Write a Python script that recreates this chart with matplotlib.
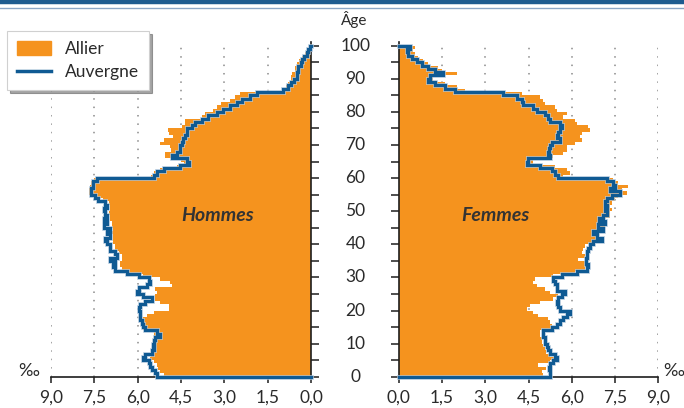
import matplotlib
matplotlib.use('Agg')
import matplotlib.pyplot as plt
from matplotlib.patches import Patch
from matplotlib.lines import Line2D
from matplotlib.transforms import blended_transform_factory
import numpy as np

plt.rcParams['font.family'] = ['Lato', 'DejaVu Sans']

# ---------------- data (per mille, ages 0..99) ----------------
ages = list(range(100))

hommes_auvergne = [
    5.33, 5.39, 5.50, 5.57, 5.62, 5.80, 5.74, 5.50, 5.45, 5.47,
    5.45, 5.39, 5.22, 5.33, 5.74, 5.80, 5.85, 5.91, 5.91, 5.91,
    5.97, 5.91, 5.74, 5.50, 5.80, 6.03, 5.97, 5.68, 5.57, 5.62,
    5.97, 6.37, 6.78, 6.84, 6.78, 6.95, 6.72, 6.78, 6.95, 6.95,
    7.07, 7.12, 6.95, 7.07, 6.95, 7.18, 7.07, 7.18, 7.07, 7.12,
    7.18, 7.07, 7.13, 7.36, 7.47, 7.60, 7.60, 7.55, 7.53, 7.42,
    5.45, 5.34, 5.10, 4.53, 4.24, 4.30, 4.82, 4.65, 4.53, 4.53,
    4.47, 4.42, 4.36, 4.30, 4.30, 4.13, 4.00, 3.78, 3.55, 3.26,
    3.03, 2.80, 2.57, 2.40, 2.10, 1.88, 0.96, 0.80, 0.70, 0.60,
    0.50, 0.50, 0.44, 0.44, 0.35, 0.30, 0.25, 0.15, 0.10, 0.03]

hommes_allier = [
    5.10, 5.22, 5.28, 5.33, 5.45, 5.57, 5.55, 5.45, 5.40, 5.40,
    5.40, 5.35, 5.45, 5.45, 5.80, 5.82, 5.80, 5.80, 5.68, 5.45,
    4.93, 4.93, 5.22, 5.39, 5.39, 5.33, 5.39, 4.82, 4.87, 5.22,
    5.80, 6.32, 6.55, 6.60, 6.60, 6.55, 6.55, 6.66, 6.78, 6.78,
    6.84, 6.84, 6.84, 6.90, 6.84, 6.90, 6.90, 6.95, 6.95, 7.00,
    6.95, 6.95, 7.00, 7.20, 7.40, 7.70, 7.70, 7.65, 7.60, 7.50,
    5.55, 5.45, 5.22, 4.65, 4.40, 4.50, 5.05, 5.05, 4.85, 4.88,
    5.22, 5.10, 4.76, 4.90, 4.94, 4.47, 4.36, 4.36, 3.78, 3.67,
    3.38, 3.26, 3.10, 2.80, 2.63, 2.45, 1.00, 0.85, 0.80, 0.70,
    0.70, 0.65, 0.55, 0.55, 0.50, 0.40, 0.30, 0.20, 0.12, 0.05]

femmes_auvergne = [
    5.24, 5.24, 5.22, 5.24, 5.36, 5.48, 5.42, 5.24, 5.19, 5.13,
    5.07, 5.07, 5.01, 5.01, 5.30, 5.48, 5.59, 5.71, 5.82, 5.94,
    5.59, 5.53, 5.48, 5.53, 5.65, 5.77, 5.48, 5.48, 5.42, 5.36,
    5.65, 6.17, 6.52, 6.57, 6.49, 6.49, 6.52, 6.52, 6.57, 6.63,
    6.75, 7.04, 6.86, 6.75, 7.09, 6.92, 7.15, 6.95, 7.09, 7.21,
    7.15, 7.21, 7.15, 7.21, 7.38, 7.67, 7.33, 7.50, 7.44, 7.21,
    5.53, 5.42, 5.30, 4.90, 4.44, 4.49, 5.24, 5.19, 5.22, 5.24,
    5.30, 5.59, 5.48, 5.53, 5.59, 5.65, 5.59, 5.24, 5.19, 5.07,
    4.78, 4.67, 4.32, 4.26, 4.09, 3.63, 1.95, 1.60, 1.26, 1.03,
    1.09, 1.55, 1.26, 1.03, 0.80, 0.62, 0.45, 0.33, 0.28, 0.40]

femmes_allier = [
    5.00, 4.96, 5.10, 4.84, 5.25, 5.42, 5.25, 5.10, 5.07, 5.01,
    4.96, 4.96, 4.90, 4.90, 5.36, 5.30, 5.25, 5.19, 4.84, 4.67,
    4.44, 4.55, 4.90, 5.36, 5.53, 5.25, 5.07, 4.78, 4.67, 4.73,
    5.36, 6.10, 6.45, 6.62, 6.49, 6.23, 6.45, 6.34, 6.40, 6.45,
    6.75, 7.04, 6.92, 6.92, 7.00, 7.15, 7.15, 7.00, 7.33, 7.33,
    7.38, 7.33, 7.38, 7.50, 7.61, 7.90, 7.73, 7.96, 7.61, 7.44,
    5.71, 5.94, 5.82, 5.42, 4.67, 4.67, 5.36, 5.71, 5.82, 5.82,
    6.11, 6.34, 6.29, 6.34, 6.63, 6.57, 6.17, 6.11, 5.71, 5.82,
    5.48, 5.42, 5.07, 5.01, 4.90, 4.26, 2.30, 2.01, 1.60, 1.20,
    1.20, 2.01, 1.49, 1.37, 1.03, 0.85, 0.68, 0.55, 0.50, 0.57]

x_ticks = [0.0, 1.5, 3.0, 4.5, 6.0, 7.5, 9.0]
x_tick_labels = ['0,0', '1,5', '3,0', '4,5', '6,0', '7,5', '9,0']
age_ticks = list(range(0, 101, 5))
age_labels = ['0', '10', '20', '30', '40', '50', '60', '70', '80', '90', '100']
series_names = ['Allier', 'Auvergne']
panel_names = ['Hommes', 'Femmes']

# ---------------- style ----------------
ORANGE = '#F5931E'
BLUE = '#0F5A93'
GRID = '#8a8a8a'
AXC = '#1e1e1e'
TXT = '#2a2a2a'

W, H = 684, 408
fig = plt.figure(figsize=(W / 100, H / 100), dpi=100)


def px_rect(x0, y0, x1, y1):
    return [x0 / W, 1 - y1 / H, (x1 - x0) / W, (y1 - y0) / H]


ax_h = fig.add_axes(px_rect(51, 42.4, 311, 376.7))
ax_f = fig.add_axes(px_rect(398.7, 42.4, 658.3, 376.7))

ages_arr = np.array(ages)
bottoms = np.column_stack([ages_arr, ages_arr + 1]).ravel()


def draw_panel(ax, allier, auvergne):
    allier = np.asarray(allier)
    auvergne = np.asarray(auvergne)
    # stepped area for Allier (one band per year of age)
    ax.fill_betweenx(bottoms, 0, np.repeat(allier, 2), color=ORANGE,
                     linewidth=0, zorder=1)
    xs = np.concatenate([[0], np.repeat(auvergne, 2), [0]])
    ys = np.concatenate([[0], bottoms, [100]])
    ax.plot(xs, ys, color='#b9cde0', lw=3.6, zorder=2.8, solid_joinstyle='miter',
            clip_on=False, alpha=0.7)
    ax.plot(xs, ys, color=BLUE, lw=2.3, zorder=3, solid_joinstyle='miter',
            clip_on=False)
    ax.set_ylim(0, 101)
    ax.set_xticks(x_ticks)
    ax.set_xticklabels(x_tick_labels)
    ax.set_yticks(age_ticks)
    ax.set_yticklabels([])
    ax.set_axisbelow(True)
    ax.grid(axis='x', linestyle=(0, (1, 4.5)), color=GRID, lw=1.1)
    ax.grid(axis='y', visible=False)
    ax.spines['top'].set_visible(False)
    for s in ax.spines.values():
        s.set_color(AXC)
        s.set_linewidth(1.2)
    ax.tick_params(axis='x', direction='out', length=4, width=1.1, color=AXC,
                   labelsize=12.5, labelcolor=TXT, pad=5.5)
    ax.tick_params(axis='y', direction='out', length=5.5, width=1.1, color=AXC)


draw_panel(ax_h, hommes_allier, hommes_auvergne)
ax_h.set_xlim(9, 0)
ax_h.spines['left'].set_visible(False)
ax_h.yaxis.tick_right()

draw_panel(ax_f, femmes_allier, femmes_auvergne)
ax_f.set_xlim(0, 9)
ax_f.spines['right'].set_visible(False)
ax_f.yaxis.tick_left()

# age labels centred between the two panels
trans = blended_transform_factory(fig.transFigure, ax_f.transData)
for a, lab in zip(range(0, 101, 10), age_labels):
    fig.text(355.5 / W, a, lab, transform=trans, ha='center', va='center',
             fontsize=12.5, color=TXT)

ax_h.text(3.25, 48.8, panel_names[0], ha='center', va='center', fontsize=14,
          fontweight='bold', fontstyle='italic', color='#333333')
ax_f.text(3.34, 48.8, panel_names[1], ha='center', va='center', fontsize=14,
          fontweight='bold', fontstyle='italic', color='#333333')

fig.text(29 / W, 1 - 371 / H, '‰', ha='center', va='center', fontsize=13, color=TXT)
fig.text(674 / W, 1 - 371 / H, '‰', ha='center', va='center', fontsize=13, color=TXT)
fig.text(354 / W, 1 - 19 / H, 'Âge', ha='center', va='center', fontsize=11, color=TXT)

# header rules
fig.add_artist(Line2D([0, 1], [1 - 2.2 / H] * 2, transform=fig.transFigure,
                      color='#1D5B8F', lw=3.2))
fig.add_artist(Line2D([0, 1], [1 - 7.5 / H] * 2, transform=fig.transFigure,
                      color='#8AA6C6', lw=1.0))

handles = [Patch(facecolor=ORANGE, edgecolor=ORANGE),
           Line2D([0], [0], color=BLUE, lw=2.5)]
leg = fig.legend(handles, series_names, loc='upper left',
                 bbox_to_anchor=(7 / W, 1 - 31 / H), fontsize=12.5,
                 frameon=True, fancybox=False, shadow=True,
                 handlelength=2.0, handleheight=0.9, labelspacing=0.42,
                 borderpad=0.55, handletextpad=0.8, borderaxespad=0)
leg.get_frame().set_edgecolor('#d0d0d0')
leg.get_frame().set_linewidth(0.8)
for t in leg.get_texts():
    t.set_color(TXT)

fig.savefig('out.png', dpi=100)
